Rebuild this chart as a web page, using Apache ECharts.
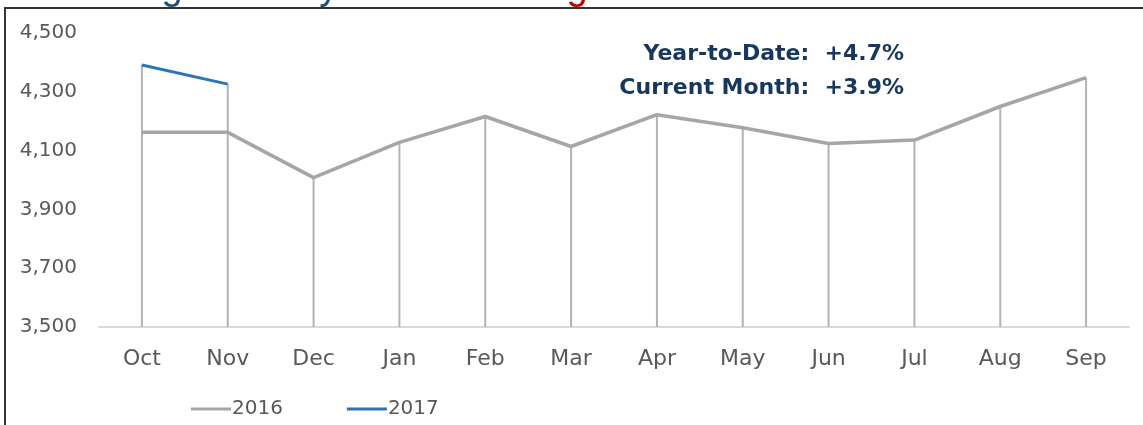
<!DOCTYPE html>
<html>
<head>
<meta charset="utf-8">
<script src="https://cdn.jsdelivr.net/npm/echarts@6/dist/echarts.min.js"></script>
<style>
  html, body { margin: 0; padding: 0; background: #fff; }
  #chart { width: 1143px; height: 425px; }
</style>
</head>
<body>
<div id="chart"></div>
<script>
"use strict";
// months and values
var months = ["Oct", "Nov", "Dec", "Jan", "Feb", "Mar", "Apr", "May", "Jun", "Jul", "Aug", "Sep"];
var data2016 = [4162, 4162, 4008, 4128, 4216, 4114, 4222, 4178, 4124, 4136, 4250, 4348];
var data2017 = [4391, 4326, null, null, null, null, null, null, null, null, null, null];
var yTicks = [3500, 3700, 3900, 4100, 4300, 4500];

// drop lines go up to the higher of the two series
var dropTops = months.map(function (m, i) {
    var a = data2016[i], b = data2017[i];
    return b == null ? a : Math.max(a, b);
});

var chart = echarts.init(document.getElementById("chart"));
var textGrey = "#595959";

var option = {
    animation: false,
    title: {
        text: "{b|Average Weekly }{r|Retail Earnings}",
        left: 58,
        top: -35,
        textStyle: {
            rich: {
                b: {fontSize: 38, color: "#1f4e79", fontFamily: "Liberation Sans", fontWeight: "normal"},
                r: {fontSize: 38, color: "#c00000", fontFamily: "Liberation Sans", fontWeight: "normal"}
            }
        }
    },
    graphic: [
        {
            type: "rect", z: 0, silent: true,
            shape: {x: 5, y: 8, width: 1200, height: 500},
            style: {fill: "#fff", stroke: "#333", lineWidth: 2}
        },
        {
            type: "rect", z: 5, silent: true,
            shape: {x: 570, y: 34, width: 350, height: 74},
            style: {fill: "#fff"}
        },
        {
            type: "text", z: 6,
            x: 904, y: 54,
            style: {
                text: "Year-to-Date:  +4.7%",
                align: "right", verticalAlign: "middle",
                font: "bold 22px 'DejaVu Sans'", fill: "#17375e"
            }
        },
        {
            type: "text", z: 6,
            x: 904, y: 88,
            style: {
                text: "Current Month:  +3.9%",
                align: "right", verticalAlign: "middle",
                font: "bold 22px 'DejaVu Sans'", fill: "#17375e"
            }
        }
    ],
    legend: {
        left: 186,
        top: 394,
        itemGap: 64,
        itemWidth: 40,
        itemHeight: 3,
        icon: "rect",
        data: ["2016", "2017"],
        textStyle: {fontSize: 20, color: textGrey, fontFamily: "DejaVu Sans", padding: [0, 0, 0, -4]}
    },
    grid: {
        left: 99, right: 14, top: 33, bottom: 98,
        show: true,
        borderWidth: 0,
        backgroundColor: {
            type: "linear", x: 0, y: 0, x2: 0, y2: 1,
            colorStops: [{offset: 0, color: "#ffffff"}, {offset: 1, color: "#efefef"}]
        }
    },
    xAxis: {
        type: "category",
        data: months,
        boundaryGap: true,
        axisLine: {lineStyle: {color: "#d9d9d9", width: 2}},
        axisTick: {show: false},
        axisLabel: {fontSize: 22, color: textGrey, margin: 21, fontFamily: "DejaVu Sans"}
    },
    yAxis: {
        type: "value",
        min: yTicks[0],
        max: yTicks[yTicks.length - 1],
        interval: 200,
        splitLine: {show: false},
        axisLine: {show: false},
        axisTick: {show: false},
        axisLabel: {
            fontSize: 20, color: textGrey, margin: 22, fontFamily: "DejaVu Sans",
            formatter: function (v) { return v.toLocaleString("en-US"); }
        }
    },
    series: [
        {
            name: "drop",
            type: "bar",
            data: dropTops,
            barWidth: 2,
            itemStyle: {color: "#b3b3b3"},
            silent: true,
            z: 1
        },
        {
            name: "2016",
            type: "line",
            data: data2016,
            showSymbol: false,
            symbol: "none",
            lineStyle: {color: "#a6a6a6", width: 3.5},
            itemStyle: {color: "#a6a6a6"},
            z: 3
        },
        {
            name: "2017",
            type: "line",
            data: data2017,
            showSymbol: false,
            symbol: "none",
            lineStyle: {color: "#2e75b6", width: 3},
            itemStyle: {color: "#2e75b6"},
            z: 4
        }
    ]
};

chart.setOption(option);
</script>
</body>
</html>
